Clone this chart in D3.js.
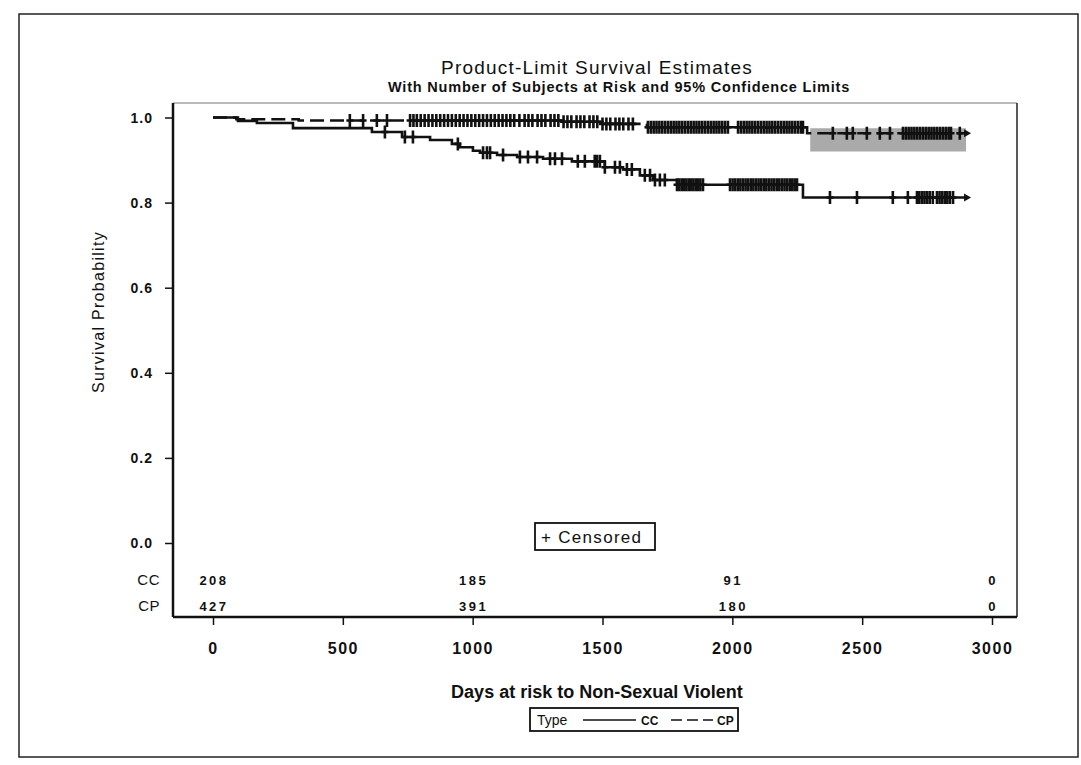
<!DOCTYPE html>
<html>
<head>
<meta charset="utf-8">
<script src="https://cdn.jsdelivr.net/npm/d3@7"></script>
<style>
  body { margin: 0; background: #fff; }
  svg text { font-family: 'Liberation Sans', Arial, sans-serif; fill: #111; }
</style>
</head>
<body>
<svg id="chart" width="1081" height="765"></svg>
<script>
// values
const xTicks = [0, 500, 1000, 1500, 2000, 2500, 3000];
const yTicks = [0, 0.2, 0.4, 0.6, 0.8, 1.0];
const groups = ['CC', 'CP'];
const riskDays = [0, 1000, 2000, 3000];
const riskCC = [208, 185, 91, 0];
const riskCP = [427, 391, 180, 0];

// [day, survival]
const stepsCC = [[0, 1], [96, 0.992], [169, 0.987], [308, 0.975], [612, 0.966], [728, 0.954],
  [836, 0.947], [920, 0.938], [951, 0.93], [1001, 0.922], [1028, 0.917], [1094, 0.912],
  [1171, 0.907], [1271, 0.903], [1382, 0.897], [1509, 0.883], [1579, 0.878], [1644, 0.864],
  [1694, 0.853], [1787, 0.842], [2272, 0.812], [2900, 0.812]];
const stepsCP = [[0, 1], [90, 0.996], [330, 0.993], [1350, 0.99], [1500, 0.985],
  [1671, 0.977], [2288, 0.963], [2900, 0.963]];
// [day, lower, upper] - only the late CP band is visible in the scan
const bandCP = [[2300, 0.92, 0.975], [2900, 0.92, 0.975]];

const censCC = [662, 739, 770, 943, 1040, 1055, 1067, 1117, 1182, 1213, 1248, 1298, 1317, 1344,
  1405, 1432, 1470, 1479, 1490, 1509, 1548, 1567, 1594, 1613, 1663, 1683, 1702, 1721, 1740,
  1787, 1796, 1805, 1814, 1823, 1832, 1841, 1850, 1859, 1868, 1877, 1887,
  1991, 2001, 2011, 2021, 2031, 2041, 2051, 2061, 2071, 2081, 2091, 2101, 2111, 2121, 2131,
  2141, 2151, 2161, 2171, 2181, 2191, 2201, 2211, 2221, 2231, 2240, 2249,
  2376, 2480, 2618, 2676,
  2711, 2720, 2730, 2740, 2750, 2760, 2772, 2788, 2798, 2808, 2818, 2828, 2838, 2850];
const censCP = [527, 578, 631, 670,
  759, 772, 785, 800, 815, 830, 845, 860, 875, 890, 905, 920, 935, 950, 965, 980, 995, 1010,
  1025, 1040, 1055, 1070, 1085, 1100, 1115, 1130, 1145, 1160, 1180, 1200, 1215, 1230, 1250,
  1265, 1280, 1300, 1315, 1330, 1350, 1365, 1380, 1400, 1415, 1430, 1450, 1465, 1480, 1500,
  1515, 1530, 1550, 1565, 1580, 1600, 1617,
  1675, 1686, 1697, 1708, 1719, 1730, 1741, 1752, 1763, 1774, 1785, 1796, 1807, 1818, 1829,
  1840, 1851, 1862, 1873, 1884, 1895, 1906, 1917, 1928, 1939, 1950, 1961, 1972, 1983,
  2022, 2033, 2044, 2055, 2066, 2077, 2088, 2099, 2110, 2121, 2132, 2143, 2154, 2165, 2176,
  2187, 2198, 2209, 2220, 2231, 2242, 2253, 2264, 2272,
  2387, 2441, 2464, 2518, 2568, 2607,
  2657, 2668, 2679, 2690, 2701, 2712, 2723, 2734, 2745, 2756, 2767, 2778, 2789, 2800, 2811,
  2822, 2833, 2842, 2876];

const svg = d3.select('#chart');

const frame = { left: 173, right: 1017, top: 103, bottom: 617 };
const x = d3.scaleLinear().domain([0, 3000]).range([213, 992]);
const y = d3.scaleLinear().domain([0, 1]).range([543, 117.5]);

// outer border of the figure
svg.append('rect')
  .attr('x', 19).attr('y', 14).attr('width', 1059).attr('height', 743)
  .attr('fill', 'none').attr('stroke', '#222').attr('stroke-width', 1.5);

// titles
svg.append('text').attr('x', 597).attr('y', 74).attr('text-anchor', 'middle')
  .style('font-size', '19px').style('letter-spacing', '1.2px').text('Product-Limit Survival Estimates');
svg.append('text').attr('x', 619).attr('y', 92).attr('text-anchor', 'middle')
  .style('font-size', '14.5px').style('font-weight', 'bold').style('letter-spacing', '0.8px')
  .text('With Number of Subjects at Risk and 95% Confidence Limits');

// confidence band
svg.append('path')
  .datum(bandCP)
  .attr('fill', '#aaa')
  .attr('d', d3.area().curve(d3.curveStepAfter)
    .x(d => x(d[0])).y0(d => y(d[1])).y1(d => y(d[2])));

// plot frame (top/right thin, axes thick)
svg.append('line').attr('x1', frame.left).attr('x2', frame.right)
  .attr('y1', frame.top).attr('y2', frame.top).attr('stroke', '#777').attr('stroke-width', 1.2);
svg.append('line').attr('x1', frame.right).attr('x2', frame.right)
  .attr('y1', frame.top).attr('y2', frame.bottom).attr('stroke', '#222').attr('stroke-width', 1.5);

const yAxis = svg.append('g')
  .attr('transform', `translate(${frame.left},0)`)
  .call(d3.axisLeft(y).tickValues(yTicks).tickFormat(d3.format('.1f')).tickSize(8).tickSizeOuter(0));
yAxis.select('.domain').attr('d', `M0,${frame.top}V${frame.bottom}`).attr('stroke', '#111').attr('stroke-width', 2.5);
yAxis.selectAll('.tick line').attr('stroke', '#111').attr('stroke-width', 1.5);
yAxis.selectAll('.tick text').attr('x', -20).attr('dy', '0.35em')
  .style('font-size', '14px').style('font-weight', 'bold').style('letter-spacing', '1px')
  .style('font-family', 'Liberation Sans, Arial');

const xAxis = svg.append('g')
  .attr('transform', `translate(0,${frame.bottom})`)
  .call(d3.axisBottom(x).tickValues(xTicks).tickFormat(d3.format('d')).tickSize(8).tickSizeOuter(0));
xAxis.select('.domain').attr('d', `M${frame.left},0H${frame.right}`).attr('stroke', '#111').attr('stroke-width', 2.5);
xAxis.selectAll('.tick line').attr('stroke', '#111').attr('stroke-width', 1.5);
xAxis.selectAll('.tick text').attr('y', 26)
  .style('font-size', '16px').style('font-weight', 'bold').style('letter-spacing', '1.5px')
  .style('font-family', 'Liberation Sans, Arial');

svg.append('text')
  .attr('transform', 'translate(104,312) rotate(-90)')
  .attr('text-anchor', 'middle').style('font-size', '16px').style('letter-spacing', '1.3px')
  .text('Survival Probability');

svg.append('text').attr('x', 597).attr('y', 698).attr('text-anchor', 'middle')
  .style('font-size', '18px').style('font-weight', 'bold')
  .text('Days at risk to Non-Sexual Violent');

// curves
const stepLine = d3.line().curve(d3.curveStepAfter).x(d => x(d[0])).y(d => y(d[1]));
svg.append('path').datum(stepsCC).attr('fill', 'none').attr('stroke', '#111')
  .attr('stroke-width', 2.6).attr('d', stepLine);
svg.append('path').datum(stepsCP).attr('fill', 'none').attr('stroke', '#111')
  .attr('stroke-width', 2.6).attr('stroke-dasharray', '14,6').attr('d', stepLine);

// censored marks sit on the curve value at that day
const bis = d3.bisector(d => d[0]).right;
function survAt(steps, t) {
  return steps[Math.max(0, bis(steps, t) - 1)][1];
}
function drawCens(times, steps) {
  svg.append('g').selectAll('path')
    .data(times)
    .join('path')
    .attr('d', t => {
      const cx = x(t), cy = y(survAt(steps, t));
      return `M${cx - 3.5},${cy}H${cx + 3.5}M${cx},${cy - 6.5}V${cy + 6.5}`;
    })
    .attr('stroke', '#111').attr('stroke-width', 2.6);
}
drawCens(censCC, stepsCC);
drawCens(censCP, stepsCP);

// end arrows
[stepsCC, stepsCP].forEach(s => {
  const last = s[s.length - 1];
  const ax = x(last[0]), ay = y(last[1]);
  svg.append('path').attr('d', `M${ax - 2},${ay - 4}L${ax + 5},${ay}L${ax - 2},${ay + 4}Z`)
    .attr('fill', '#111');
});

// censored legend
svg.append('rect').attr('x', 535).attr('y', 523).attr('width', 120).attr('height', 27)
  .attr('fill', '#fff').attr('stroke', '#111').attr('stroke-width', 1.8);
svg.append('text').attr('x', 541).attr('y', 543).style('font-size', '17px').style('letter-spacing', '1.3px')
  .text('+ Censored');

// number at risk
const riskRows = [riskCC, riskCP];
const rowY = [585, 611];
groups.forEach((g, i) => {
  svg.append('text').attr('x', 160).attr('y', rowY[i]).attr('text-anchor', 'end')
    .style('font-size', '15px').style('letter-spacing', '0.5px').text(g);
  svg.append('g').selectAll('text')
    .data(riskRows[i])
    .join('text')
    .attr('x', (d, j) => x(riskDays[j]) + 1)
    .attr('y', rowY[i])
    .attr('text-anchor', 'middle')
    .style('font-size', '13px').style('font-weight', 'bold').style('letter-spacing', '2.5px')
    .text(d => d);
});

// group legend
const lg = svg.append('g');
lg.append('rect').attr('x', 530).attr('y', 708).attr('width', 208).attr('height', 23)
  .attr('fill', '#fff').attr('stroke', '#111').attr('stroke-width', 1.8);
lg.append('text').attr('x', 537).attr('y', 725).style('font-size', '14px').text('Type');
lg.append('line').attr('x1', 583).attr('x2', 636).attr('y1', 720).attr('y2', 720)
  .attr('stroke', '#111').attr('stroke-width', 1.5);
lg.append('text').attr('x', 641).attr('y', 725).style('font-size', '12px').style('font-weight', 'bold')
  .text(groups[0]);
lg.append('line').attr('x1', 671).attr('x2', 713).attr('y1', 720).attr('y2', 720)
  .attr('stroke', '#111').attr('stroke-width', 1.5).attr('stroke-dasharray', '11,5');
lg.append('text').attr('x', 717).attr('y', 725).style('font-size', '12px').style('font-weight', 'bold')
  .text(groups[1]);
</script>
</body>
</html>
